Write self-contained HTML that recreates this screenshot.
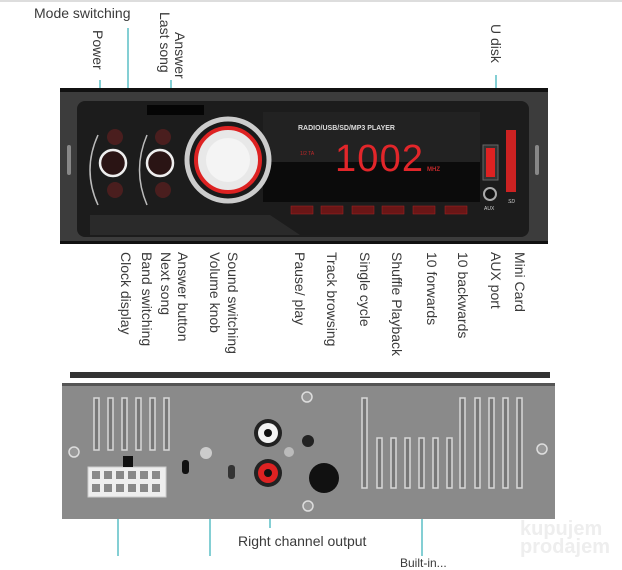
<!DOCTYPE html>
<html><head><meta charset="utf-8"><style>
body{margin:0;width:622px;height:564px;background:#fff;position:relative;overflow:hidden;font-family:"Liberation Sans",sans-serif;color:#444}
.v{position:absolute;writing-mode:vertical-rl;font-size:14px;line-height:15px;white-space:nowrap;color:#3a3a3a}
.a{position:absolute;font-size:14px;color:#3a3a3a;white-space:nowrap}
</style></head><body>
<div style="position:absolute;left:0;top:0;width:622px;height:2px;background:#ddd"></div>
<div class="a" style="left:34px;top:5px">Mode switching</div>
<div class="v" style="left:90px;top:30px">Power</div>
<div class="v" style="left:157px;top:12px">Last song</div>
<div class="v" style="left:172px;top:32px">Answer</div>
<div class="v" style="left:488px;top:24px">U disk</div>

<div class="v" style="left:118px;top:252px">Clock display</div>
<div class="v" style="left:139px;top:252px">Band switching</div>
<div class="v" style="left:158px;top:252px">Next song</div>
<div class="v" style="left:175px;top:252px">Answer button</div>
<div class="v" style="left:207px;top:252px">Volume knob</div>
<div class="v" style="left:225px;top:252px">Sound switching</div>
<div class="v" style="left:292px;top:252px">Pause/ play</div>
<div class="v" style="left:324px;top:252px">Track browsing</div>
<div class="v" style="left:357px;top:252px">Single cycle</div>
<div class="v" style="left:389px;top:252px">Shuffle Playback</div>
<div class="v" style="left:424px;top:252px">10 forwards</div>
<div class="v" style="left:455px;top:252px">10 backwards</div>
<div class="v" style="left:488px;top:252px">AUX port</div>
<div class="v" style="left:512px;top:252px">Mini Card</div>
<div class="a" style="left:238px;top:533px">Right channel output</div>
<div class="a" style="left:400px;top:556px;font-size:12px">Built-in...</div>

<svg width="622" height="564" style="position:absolute;left:0;top:0">
<g stroke="#5bbfc6" stroke-width="1.5" fill="none">
<line x1="128" y1="28" x2="128" y2="88"/><line x1="100" y1="80" x2="100" y2="88"/><line x1="171" y1="80" x2="171" y2="88"/><line x1="496" y1="75" x2="496" y2="88"/>
<line x1="118" y1="499" x2="118" y2="556"/><line x1="210" y1="437" x2="256" y2="437"/><line x1="210" y1="437" x2="210" y2="556"/>
<line x1="270" y1="486" x2="270" y2="528"/><line x1="330" y1="485" x2="422" y2="485"/><line x1="422" y1="485" x2="422" y2="556"/>
</g>
<!-- front unit -->
<rect x="60" y="88" width="488" height="156" fill="#3c3c3c"/>
<rect x="60" y="88" width="488" height="4" fill="#111"/>
<rect x="60" y="241" width="488" height="3" fill="#111"/>
<rect x="77" y="101" width="452" height="136" rx="8" fill="#1c1c1c"/>
<rect x="67" y="145" width="4" height="30" rx="2" fill="#888"/><rect x="535" y="145" width="4" height="30" rx="2" fill="#888"/>
<rect x="147" y="105" width="57" height="10" fill="#050505"/>
<path d="M90 215 L270 215 L300 235 L90 235Z" fill="#2a2a2a"/>
<rect x="263" y="112" width="217" height="90" fill="#0b0b0b"/>
<rect x="263" y="112" width="217" height="50" fill="#222"/>
<text x="298" y="130" font-size="7" font-weight="bold" fill="#ddd" font-family="Liberation Sans">RADIO/USB/SD/MP3 PLAYER</text>
<text x="335" y="171" font-size="38" fill="#e2262a" font-family="Liberation Sans" letter-spacing="4" textLength="92" style="font-weight:100">1002</text>
<text x="300" y="155" font-size="5" fill="#c0282a">1/2 TA</text><text x="427" y="171" font-size="6" fill="#c0282a" font-weight="bold">MHZ</text>
<g fill="#6a1616" stroke="#a22" stroke-width=".5">
<rect x="291" y="206" width="22" height="8"/><rect x="321" y="206" width="22" height="8"/><rect x="352" y="206" width="22" height="8"/><rect x="382" y="206" width="22" height="8"/><rect x="413" y="206" width="22" height="8"/><rect x="445" y="206" width="22" height="8"/>
</g>
<rect x="483" y="145" width="15" height="35" fill="#333" stroke="#666"/><rect x="486" y="148" width="9" height="29" fill="#d22"/>
<rect x="506" y="130" width="10" height="62" fill="#c22"/>
<circle cx="490" cy="194" r="6" fill="#111" stroke="#aaa" stroke-width="2"/>
<text x="484" y="210" font-size="5" fill="#ccc">AUX</text><text x="508" y="203" font-size="5" fill="#ccc" font-style="italic">SD</text>
<g stroke="#bbb" fill="none" stroke-width="1.5"><path d="M98 135 Q82 170 98 205"/><path d="M147 135 Q132 170 147 205"/></g>
<circle cx="115" cy="137" r="8" fill="#4a1e1e"/><circle cx="115" cy="190" r="8" fill="#4a1e1e"/>
<circle cx="163" cy="137" r="8" fill="#4a1e1e"/><circle cx="163" cy="190" r="8" fill="#4a1e1e"/>
<circle cx="113" cy="163" r="13" fill="#2a1414" stroke="#eee" stroke-width="2.5"/>
<circle cx="160" cy="163" r="13" fill="#2a1414" stroke="#eee" stroke-width="2.5"/>
<circle cx="228" cy="160" r="41" fill="#1a1a1a" stroke="#ccc" stroke-width="5"/>
<circle cx="228" cy="160" r="32" fill="#e8e8e8" stroke="#d22" stroke-width="4"/>
<circle cx="228" cy="160" r="22" fill="#f4f4f4"/>
<!-- back unit -->
<rect x="70" y="372" width="480" height="6" fill="#333"/>
<rect x="62" y="383" width="493" height="136" fill="#8a8a8a"/>
<rect x="62" y="383" width="493" height="3" fill="#555"/>
<g fill="#777" stroke="#d8d8d8" stroke-width="1.5">
<rect x="94" y="398" width="5" height="52"/><rect x="108" y="398" width="5" height="52"/><rect x="122" y="398" width="5" height="52"/><rect x="136" y="398" width="5" height="52"/><rect x="150" y="398" width="5" height="52"/><rect x="164" y="398" width="5" height="52"/>
<rect x="362" y="398" width="5" height="90"/><rect x="460" y="398" width="5" height="90"/><rect x="475" y="398" width="5" height="90"/><rect x="489" y="398" width="5" height="90"/><rect x="503" y="398" width="5" height="90"/><rect x="517" y="398" width="5" height="90"/>
<rect x="377" y="438" width="5" height="50"/><rect x="391" y="438" width="5" height="50"/><rect x="405" y="438" width="5" height="50"/><rect x="419" y="438" width="5" height="50"/><rect x="433" y="438" width="5" height="50"/><rect x="447" y="438" width="5" height="50"/>
</g>
<rect x="88" y="467" width="78" height="30" fill="#eee" stroke="#ccc"/>
<g fill="#888"><rect x="92" y="471" width="8" height="8"/><rect x="104" y="471" width="8" height="8"/><rect x="116" y="471" width="8" height="8"/><rect x="128" y="471" width="8" height="8"/><rect x="140" y="471" width="8" height="8"/><rect x="152" y="471" width="8" height="8"/>
<rect x="92" y="484" width="8" height="8"/><rect x="104" y="484" width="8" height="8"/><rect x="116" y="484" width="8" height="8"/><rect x="128" y="484" width="8" height="8"/><rect x="140" y="484" width="8" height="8"/><rect x="152" y="484" width="8" height="8"/></g>
<rect x="123" y="456" width="10" height="11" fill="#111"/>
<circle cx="268" cy="433" r="14" fill="#222"/><circle cx="268" cy="433" r="10" fill="#f4f4f4"/><circle cx="268" cy="433" r="4" fill="#111"/>
<circle cx="268" cy="473" r="14" fill="#222"/><circle cx="268" cy="473" r="10" fill="#d22"/><circle cx="268" cy="473" r="4" fill="#111"/>
<circle cx="324" cy="478" r="15" fill="#111"/>
<circle cx="308" cy="441" r="6" fill="#222"/><circle cx="289" cy="452" r="5" fill="#bbb"/>
<rect x="182" y="460" width="7" height="14" rx="3" fill="#111"/><rect x="228" y="465" width="7" height="14" rx="3" fill="#333"/>
<circle cx="206" cy="453" r="6" fill="#ccc"/>
<g fill="#999" stroke="#ddd" stroke-width="1.5"><circle cx="307" cy="397" r="5"/><circle cx="74" cy="452" r="5"/><circle cx="542" cy="449" r="5"/><circle cx="308" cy="506" r="5"/></g>
</svg>
<div style="position:absolute;left:520px;top:520px;font-size:20px;font-weight:bold;color:#eee;line-height:18px">kupujem<br>prodajem</div>
</body></html>
